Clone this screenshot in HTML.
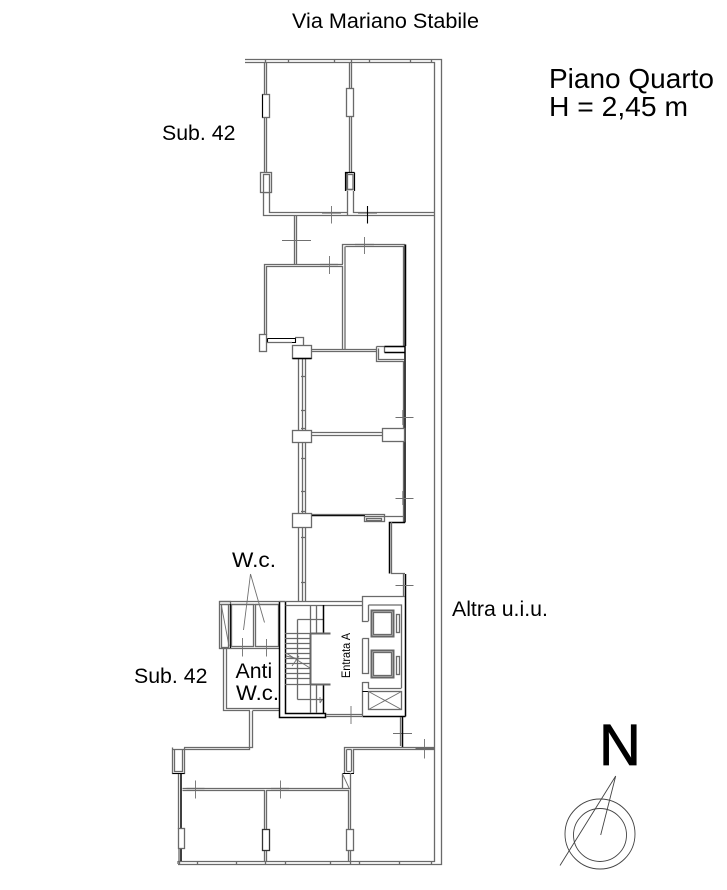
<!DOCTYPE html>
<html><head><meta charset="utf-8"><style>
html,body{margin:0;padding:0;background:#fff}
svg{display:block}
text{font-family:"Liberation Sans",sans-serif;fill:#000}
.g{fill:none;stroke:#6a6a6a;stroke-width:1.3}
.k{fill:none;stroke:#000;stroke-width:1.5}
.t{fill:none;stroke:#707070;stroke-width:.9}
.w{fill:#fff;stroke:#6a6a6a;stroke-width:1.3}
.h{fill:none;stroke:#666;stroke-width:2}
</style></head><body>
<svg width="727" height="890" viewBox="0 0 727 890" xmlns="http://www.w3.org/2000/svg">
<!-- outer -->
<path class="g" d="M245 59.5H441.5V864.5H178M245 62.5H434.5V861.5H178M178 861V864"/>
<path class="g" d="M265.5 59V63M288.5 59V63M334.5 59V63M351.5 59V63M369.5 59V63M410.5 59V63M431.5 59V63M179.5 861V864M197.5 861V864M236.5 861V864M265.5 861V864M285.5 861V864M330.5 861V864M350.5 861V864M359.5 861V864M399.5 861V864M431.5 861V864"/>
<!-- top block -->
<path class="g" d="M264.5 63V94M266.5 63V94M264.5 118V172M266.5 118V172M349.5 63V88M351.5 63V88M349.5 116V172M351.5 116V172"/>
<rect class="w" x="262.5" y="94.5" width="7" height="23"/>
<path class="k" d="M262.5 94.5V117.5" style="stroke-width:1"/>
<rect class="w" x="346.5" y="88.5" width="7" height="28"/>
<rect class="w" x="260.5" y="172.5" width="11" height="20"/>
<rect class="w" x="263.5" y="174.5" width="6" height="18"/>
<path class="k" d="M347 190.5V172.5H345.5V191M354.5 172.5V191M347 172.5H354.5M347 189.5H353" style="stroke-width:1.2"/>
<rect class="g" x="347.5" y="174.5" width="5.5" height="15"/>
<path class="g" d="M263.5 193V215.5H347.5V191M269.5 193V212.5H347M353.5 191V212.5H434.5M353.5 215.5H434.5M347.5 215.5H353.5"/>
<path class="g" d="M294.5 216V264M296.5 216V264"/>
<!-- rooms top -->
<path class="g" d="M264.5 335V264.5H343M266.5 335V266.5H342.5V349M345 246.5V349M342.5 264V244.5H404.5V346M345.5 246.5H403.5V346"/>
<path class="k" d="M405.5 244.5V346"/>
<!-- crosses -->
<path class="g" d="M322 213H341M358 213H377M320 264.5H338M355 244.5H374"/>
<path class="t" d="M331.5 206V223.5M282 240.5H311M329.5 256V274M364.5 237V254"/>
<path class="k" d="M367.5 206V223.5" style="stroke-width:1.1"/>
<!-- window -->
<rect class="w" x="259.5" y="334.5" width="7" height="17"/>
<path class="k" d="M267.5 338.5H295.5V342.5H267.5V338.5" style="stroke-width:1.1"/>
<path class="g" d="M295 337.5H303.5V345M266 342.5H292"/>
<!-- pillars & corridor -->
<path class="g" d="M298.5 358V602M302.5 358V430M302.5 443V513M302.5 527V602M305.5 358V430M305.5 443V513M305.5 527V602"/>
<path class="g" d="M301 376.5H306M301 410.5H306M301 428.5H306M301 458.5H306M301 491.5H306M301 511.5H306M301 537.5H306M301 582.5H306"/>
<rect class="w" x="292.5" y="345.5" width="19" height="13"/>
<path class="k" d="M292.5 358.5H311.5"/>
<rect class="w" x="292.5" y="430.5" width="19" height="12"/>
<rect class="w" x="292.5" y="513.5" width="19" height="14"/>
<path class="g" d="M312 349.5H377M312 351.5H377"/>
<path class="g" d="M376.5 346.5H404M376.5 346.5V361.5H404M378.5 348.5V359.5H404M384.5 346.5V352.5"/>
<path class="k" d="M384.5 352.5H405M384.5 346.5H405M405 346V522.5"/>
<path class="g" d="M403.5 361V522"/>
<path class="g" d="M312 432.5H382M312 435.5H382"/>
<rect class="w" x="382.5" y="428.5" width="22" height="13"/>
<path class="k" d="M312 515.5H365"/>
<path class="g" d="M312 514.5H384.5V516.5H403"/>
<rect class="g" x="364.5" y="516.5" width="20" height="5"/>
<rect class="g" x="366.5" y="518.5" width="15" height="2"/>
<path class="k" d="M405 522.5H389.5V573.5"/>
<path class="g" d="M391.5 522V573.5H405M403.5 574V597"/>
<path class="k" d="M405.5 574V597"/>
<path class="t" d="M395.5 417.5H413.5M395.5 498.5H413.5M395.5 585.5H413.5"/>
<path class="g" d="M403 410V425M403 491V505"/>
<!-- WC block -->
<path class="g" d="M219.5 601.5H285M219.5 604.5H279"/>
<rect class="g" x="219.5" y="601.5" width="11" height="47"/>
<rect class="g" x="221.5" y="604.5" width="7" height="43"/>
<path class="k" d="M230.5 604V648" style="stroke-width:1.2"/>
<path class="t" d="M221.5 606L229 646"/>
<rect class="g" x="231.5" y="604.5" width="22" height="42"/>
<rect class="g" x="255.5" y="604.5" width="23" height="42"/>
<path class="g" d="M231 648.5H279M223.5 648V710.5H250M226.5 648V708.5H279M252.5 710.5H279"/>
<path class="g" d="M249.5 711V749.5H172.5M252.5 711V747.5H184M172.5 747.5V773.5H184.5V747.5M174.5 749.5V771.5H182.5V749.5"/>
<path class="t" d="M250.5 574L243.5 630M250.5 574L264.5 622.5M242.5 638V656.5M266.5 639V656.5"/>
<!-- thick stair wall -->
<path class="k" d="M279.5 602V717.5H325.5V713.5H285.5V602"/>
<path class="g" d="M279.5 601.5H285.5M285.5 601.5H362.5M285.5 605.5H362.5"/>
<path class="g" d="M310.5 605V633M316.5 605V633M310.5 685V713M316.5 685V713M297.5 619.5V699.5M297.5 619.5H323.5M297.5 699.5H323.5"/>
<path class="k" d="M323.5 605V633M323.5 685V713"/>
<path class="h" d="M310.5 633.5H330.5M310.5 684.5H330.5M310.5 633V685"/>
<path class="g" d="M285 638.5H310M285 643.5H310M285 648.5H310M285 653.5H310M285 658.5H310M285 663.5H310M285 668.5H310M285 673.5H310M285 678.5H310M285 633.5H310M285 684.5H310"/>
<path class="t" d="M286 653L310 668M286 656L299 659M299 656L292 666"/>
<path class="t" d="M320 697V703M320 703L322 700"/>
<!-- lift block -->
<text x="350" y="678" font-size="11.5" transform="rotate(-90 350 678)" textLength="45" lengthAdjust="spacingAndGlyphs">Entrata A</text>
<path class="k" d="M405.5 597V716.5M405.5 716.5H362.5"/>
<path class="g" d="M362.5 601V596.5H405M362.5 601V621.5H368.5M368.5 605H401.5V688M368.5 605V621M362.5 638.5H368.5V673.5H362.5V638.5M362.5 682.5H368.5V688.5M362.5 682V716M368.5 688.5H401.5"/>
<path class="k" d="M362.5 691.5H401.5" style="stroke-width:1.1"/>
<rect class="g" x="368.5" y="691.5" width="33" height="18"/>
<path class="t" d="M368.5 691.5L401.5 709.5M368.5 709.5L401.5 691.5"/>
<path class="h" d="M371.5 610.5H393.5V636.5H371.5ZM371.5 650.5H393.5V677.5H371.5Z"/>
<rect class="g" x="373.5" y="612.5" width="18" height="22"/>
<rect class="g" x="373.5" y="652.5" width="18" height="23"/>
<rect class="g" x="396.5" y="614.5" width="3" height="18"/>
<rect class="g" x="396.5" y="656.5" width="3" height="18"/>
<path class="g" d="M326 714.5H362M326 716.5H362"/>
<path class="t" d="M351 706V724M393 733.5H412"/>
<path class="g" d="M400.5 717V746"/>
<path class="k" d="M402.5 717V747"/>
<!-- bottom block -->
<path class="g" d="M344.5 773V747.5H434.5M353.5 773V749.5H434.5M346.5 749.5V771M351.5 749.5V771"/>
<path class="g" d="M346.5 749.5H351.5M346.5 771.5H351.5"/>
<path class="k" d="M172.5 773.5H184.5M342.5 773.5H354" style="stroke-width:1.1"/>
<path class="t" d="M424.5 739V758.5"/>
<path class="g" d="M415.5 748.5H434"/>
<path class="g" d="M182.5 788.5H350M182.5 790.5H264.5M266.5 790.5H349M342.5 773.5V788.5"/>
<path class="t" d="M343 775L349 788"/>
<path class="g" d="M178.5 829V774M264.5 790V829M266.5 790V829M348.5 790V829M350.5 773V829M264.5 851V861M266.5 851V861M348.5 851V861M350.5 851V861M179 848V861"/>
<path class="k" d="M181 774V829M181 849V861"/>
<rect class="g" x="178.5" y="828.5" width="6" height="20"/>
<rect class="g" x="262.5" y="829.5" width="7" height="21" style="stroke:#333"/>
<rect class="g" x="346.5" y="829.5" width="7" height="21"/>
<path class="g" d="M186.5 788.5H204.5M271 788.5H289"/>
<path class="t" d="M195.5 780.5V798.5M280.5 780.5V798.5"/>
<!-- north -->
<circle class="t" cx="600" cy="834" r="35" style="stroke:#444"/>
<circle class="t" cx="600" cy="835" r="26.5" style="stroke:#444"/>
<path class="t" d="M615.7 776L560 865.5M615.7 776L600.7 835" style="stroke:#444"/>
<text x="599" y="765" font-size="58" style="stroke:#000;stroke-width:.8">N</text>
<!-- labels -->
<text x="292" y="28" font-size="21.3" textLength="187" lengthAdjust="spacingAndGlyphs">Via Mariano Stabile</text>
<text x="549" y="88" font-size="28">Piano Quarto</text>
<text x="549" y="116" font-size="28" textLength="139" lengthAdjust="spacingAndGlyphs">H = 2,45 m</text>
<text x="162" y="140" font-size="21.3">Sub. 42</text>
<text x="232" y="567" font-size="21.3" textLength="44" lengthAdjust="spacingAndGlyphs">W.c.</text>
<text x="452" y="616" font-size="21.3">Altra u.i.u.</text>
<text x="134" y="683" font-size="21.3">Sub. 42</text>
<text x="235.5" y="678" font-size="21.3">Anti</text>
<text x="236" y="700" font-size="21.3" textLength="43" lengthAdjust="spacingAndGlyphs">W.c.</text>
</svg>
</body></html>
